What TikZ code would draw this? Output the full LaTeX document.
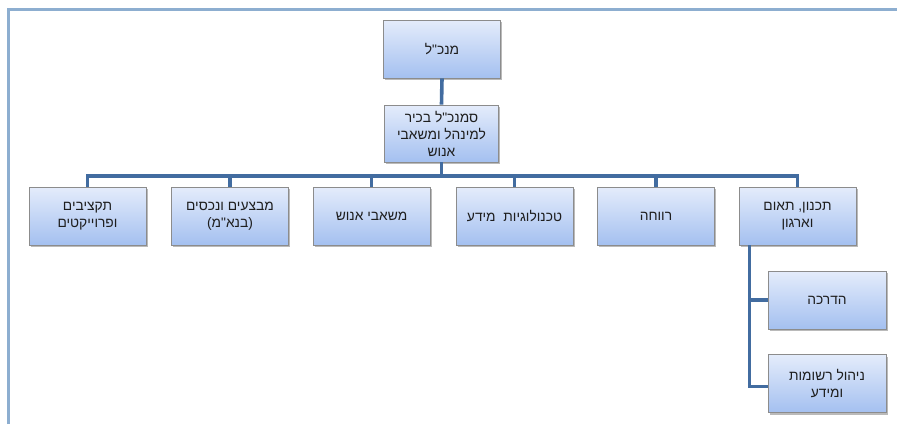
\documentclass[tikz,border=0pt]{standalone}
\usepackage{fontspec}
\setmainfont{Liberation Sans}
\newfontfamily\hebfont[Script=Hebrew]{Liberation Sans}
\TeXXeTstate=1
\usetikzlibrary{shadows}
\definecolor{conncol}{RGB}{66,108,160}
\definecolor{framecol}{RGB}{141,174,208}
\definecolor{boxtop}{RGB}{228,236,251}
\definecolor{boxbot}{RGB}{164,192,240}
\definecolor{boxline}{RGB}{140,140,140}
\definecolor{txtcol}{RGB}{30,30,30}
\newcommand{\heb}[1]{\beginR #1\endR}
\tikzset{
  orgbox/.style={draw=boxline, line width=0.8pt, top color=boxtop, bottom color=boxbot,
    minimum width=117pt, minimum height=58pt, align=center, inner sep=2pt,
    text=txtcol, font=\hebfont\fontsize{13.8}{17}\selectfont,
    drop shadow={shadow xshift=1.5pt, shadow yshift=-2pt, fill=black!45, opacity=0.6}},
  conn/.style={draw=conncol, line width=3.6pt},
  framel/.style={draw=framecol, line width=2.6pt}
}
\begin{document}
\begin{tikzpicture}[x=1pt,y=-1pt]
\useasboundingbox (0,0) rectangle (897,424);
\draw[framel] (8.5,424) -- (8.5,9.3) -- (897,9.3);
% nodes
\node[orgbox] (ceo) at (442,49) {\heb{מנכ"ל}};
\node[orgbox, minimum width=114pt, minimum height=57pt] (dep) at (441.5,133.5) {\heb{סמנכ"ל בכיר}\\\heb{למינהל ומשאבי}\\\heb{אנוש}};
\node[orgbox] (b1) at (87.5,216) {\heb{תקציבים}\\\heb{ופרוייקטים}};
\node[orgbox] (b2) at (230,216) {\heb{מבצעים ונכסים}\\\heb{(בנא"מ)}};
\node[orgbox] (b3) at (371.5,216) {\heb{משאבי אנוש}};
\node[orgbox] (b4) at (514.5,216) {\heb{טכנולוגיות~ מידע}};
\node[orgbox] (b5) at (656,216) {\heb{רווחה}};
\node[orgbox] (b6) at (797.5,216) {\heb{תכנון, תאום}\\\heb{וארגון}};
\node[orgbox, minimum width=118pt] (s1) at (827,300) {\heb{הדרכה}};
\node[orgbox, minimum width=118pt] (s2) at (827,383.5) {\heb{ניהול רשומות}\\\heb{ומידע}};
% connectors
\draw[conn] (ceo.south) -- (dep.north);
\foreach \b in {b1,b2,b3,b4,b5,b6}{
  \draw[conn] (dep.south) -- ++(0,13.5) -| (\b.north);
}
\draw[conn] ([xshift=11pt]b6.south west) |- (s1.west);
\draw[conn] ([xshift=11pt]b6.south west) |- ([yshift=-3pt]s2.west);
\end{tikzpicture}
\end{document}
